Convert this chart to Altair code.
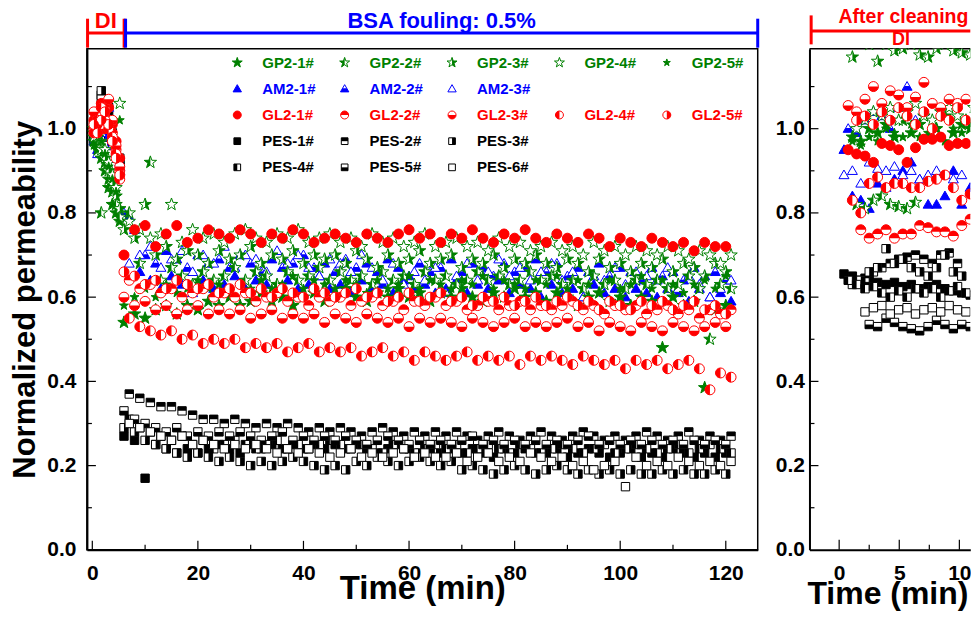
import altair as alt
import pandas as pd

FONT = "Liberation Sans"
GREEN, BLUE, RED, BLACK = "#008000", "#0000FF", "#FF0000", "#000000"

# ---------------- sampling times ----------------
T_DI = [0.3, 1.0, 1.7, 2.4, 3.1, 3.8, 4.5, 5.2]
T_EVEN = [6, 8, 10, 12, 14, 16, 18, 20, 22, 24, 26, 28, 30, 32, 34, 36, 38, 40, 42, 44,
          46, 48, 50, 52, 54, 56, 58, 60, 62, 64, 66, 68, 70, 72, 74, 76, 78, 80, 82, 84,
          86, 88, 90, 92, 94, 96, 98, 100, 102, 104, 106, 108, 110, 112, 114, 116, 118, 120]
T_ODD = [7, 9, 11, 13, 15, 17, 19, 21, 23, 25, 27, 29, 31, 33, 35, 37, 39, 41, 43, 45,
         47, 49, 51, 53, 55, 57, 59, 61, 63, 65, 67, 69, 71, 73, 75, 77, 79, 81, 83, 85,
         87, 89, 91, 93, 95, 97, 99, 101, 103, 105, 107, 109, 111, 113, 115, 117, 119, 121]
T_R1 = [0.4, 1.1, 1.8, 2.5, 3.2, 3.9, 4.6, 5.3, 6.0, 6.7, 7.4, 8.1, 8.8, 9.5, 10.2, 10.9]
T_R2 = [0.75, 1.45, 2.15, 2.85, 3.55, 4.25, 4.95, 5.65, 6.35, 7.05, 7.75, 8.45, 9.15, 9.85, 10.55, 11.2]

SERIES = ["GP2-1#", "GP2-2#", "GP2-3#", "GP2-4#", "GP2-5#",
          "AM2-1#", "AM2-2#", "AM2-3#",
          "GL2-1#", "GL2-2#", "GL2-3#", "GL2-4#", "GL2-5#",
          "PES-1#", "PES-2#", "PES-3#", "PES-4#", "PES-5#", "PES-6#"]

# ---------------- DI stage (0-5 min) ----------------
DI = {
    "GP2-1#": [0.97, 0.95, 0.93, 0.90, 0.86, 0.82, 0.80, 0.78],
    "GP2-2#": [0.99, 0.96, 0.80, 0.92, 0.88, 0.85, 0.82, 0.79],
    "GP2-3#": [1.00, 0.98, 0.95, 0.93, 0.90, 0.87, 0.84, 0.81],
    "GP2-4#": [0.98, 1.00, 0.97, 0.95, 0.92, 0.89, 0.86, 1.06],
    "GP2-5#": [0.96, 0.99, 0.97, 0.94, 0.91, 0.88, 0.85, 1.02],
    "AM2-1#": [0.97, 0.95, 1.00, 1.02, 0.99, 0.97, 0.94, 0.92],
    "AM2-2#": [1.00, 0.98, 1.02, 1.00, 0.98, 0.96, 0.93, 0.90],
    "AM2-3#": [0.98, 0.94, 0.99, 1.01, 1.05, 0.96, 0.93, 0.91],
    "GL2-1#": [1.02, 1.04, 1.06, 1.03, 1.05, 1.01, 0.97, 0.93],
    "GL2-2#": [1.00, 1.03, 1.01, 1.05, 1.02, 0.99, 0.95, 0.90],
    "GL2-3#": [1.04, 1.01, 1.03, 1.00, 1.07, 1.02, 0.96, 0.91],
    "GL2-4#": [0.99, 1.02, 1.05, 1.02, 1.00, 0.98, 0.94, 0.88],
    "GL2-5#": [1.01, 0.99, 1.02, 1.04, 1.01, 0.97, 0.93, 0.89],
    "PES-1#": [0.97, 1.00, 1.02, 1.00, 0.98, 0.96, 0.93, 0.91],
    "PES-2#": [1.01, 1.03, 1.08, 1.07, 1.05, 0.99, 0.95, 0.92],
    "PES-3#": [0.98, 1.02, 1.09, 1.06, 1.03, 0.97, 0.94, 0.90],
    "PES-4#": [1.00, 1.01, 1.05, 1.03, 1.01, 0.98, 0.95, 0.91],
    "PES-5#": [0.99, 1.02, 1.07, 1.04, 1.00, 0.97, 0.95, 0.92],
    "PES-6#": [1.00, 1.02, 1.04, 1.02, 0.99, 0.98, 0.96, 0.93],
}

# ---------------- BSA fouling stage (6-121 min) ----------------
FOUL_GRID = {"GP2-1#": "E", "GP2-2#": "O", "GP2-3#": "E", "GP2-4#": "O", "GP2-5#": "E",
             "AM2-1#": "O", "AM2-2#": "E", "AM2-3#": "O",
             "GL2-1#": "E", "GL2-2#": "O", "GL2-3#": "E", "GL2-4#": "O", "GL2-5#": "E",
             "PES-1#": "E", "PES-2#": "O", "PES-3#": "E", "PES-4#": "O", "PES-5#": "E", "PES-6#": "O"}

FOUL = {
    "GP2-1#": [0.54, 0.56, 0.55, 0.57, 0.58, 0.56, 0.58, 0.57, 0.59, 0.58,
               0.60, 0.58, 0.59, 0.61, 0.59, 0.60, 0.58, 0.60, 0.61, 0.59,
               0.60, 0.62, 0.60, 0.59, 0.61, 0.60, 0.62, 0.60, 0.61, 0.59,
               0.61, 0.60, 0.62, 0.60, 0.59, 0.61, 0.60, 0.62, 0.60, 0.61,
               0.59, 0.61, 0.60, 0.58, 0.60, 0.61, 0.59, 0.60, 0.58, 0.60,
               0.59, 0.48, 0.60, 0.58, 0.59, 0.385, 0.57, 0.58],
    "GP2-2#": [0.80, 0.68, 0.92, 0.64, 0.67, 0.65, 0.63, 0.66, 0.64, 0.65,
               0.67, 0.64, 0.66, 0.65, 0.63, 0.66, 0.64, 0.65, 0.67, 0.64,
               0.66, 0.64, 0.65, 0.63, 0.66, 0.64, 0.65, 0.63, 0.66, 0.64,
               0.65, 0.63, 0.64, 0.66, 0.64, 0.65, 0.63, 0.64, 0.66, 0.64,
               0.65, 0.63, 0.64, 0.62, 0.65, 0.63, 0.64, 0.62, 0.64, 0.63,
               0.64, 0.62, 0.63, 0.65, 0.62, 0.50, 0.63, 0.62],
    "GP2-3#": [0.76, 0.74, 0.82, 0.70, 0.72, 0.69, 0.71, 0.70, 0.68, 0.71,
               0.69, 0.70, 0.72, 0.68, 0.70, 0.69, 0.71, 0.68, 0.70, 0.69,
               0.70, 0.68, 0.71, 0.69, 0.67, 0.70, 0.68, 0.69, 0.71, 0.68,
               0.69, 0.70, 0.67, 0.69, 0.68, 0.70, 0.67, 0.69, 0.68, 0.70,
               0.68, 0.67, 0.69, 0.68, 0.66, 0.69, 0.67, 0.68, 0.66, 0.68,
               0.67, 0.69, 0.66, 0.68, 0.67, 0.65, 0.68, 0.66],
    "GP2-4#": [0.78, 0.76, 0.74, 0.75, 0.82, 0.73, 0.76, 0.74, 0.75, 0.73,
               0.75, 0.76, 0.74, 0.73, 0.75, 0.74, 0.76, 0.73, 0.74, 0.75,
               0.73, 0.74, 0.72, 0.75, 0.73, 0.74, 0.72, 0.73, 0.75, 0.72,
               0.73, 0.74, 0.72, 0.73, 0.71, 0.74, 0.72, 0.73, 0.71, 0.72,
               0.73, 0.71, 0.72, 0.70, 0.73, 0.71, 0.72, 0.70, 0.72, 0.71,
               0.70, 0.72, 0.71, 0.69, 0.71, 0.70, 0.68, 0.70],
    "GP2-5#": [0.58, 0.60, 0.62, 0.60, 0.63, 0.61, 0.62, 0.64, 0.62, 0.63,
               0.61, 0.63, 0.62, 0.64, 0.62, 0.63, 0.65, 0.62, 0.64, 0.63,
               0.62, 0.64, 0.63, 0.61, 0.64, 0.62, 0.63, 0.65, 0.62, 0.64,
               0.63, 0.62, 0.64, 0.63, 0.65, 0.62, 0.64, 0.63, 0.62, 0.64,
               0.63, 0.65, 0.62, 0.64, 0.63, 0.61, 0.64, 0.62, 0.63, 0.65,
               0.62, 0.64, 0.63, 0.61, 0.63, 0.64, 0.62, 0.65],
    "AM2-1#": [0.79, 0.66, 0.64, 0.62, 0.65, 0.63, 0.61, 0.64, 0.62, 0.63,
               0.65, 0.62, 0.64, 0.63, 0.61, 0.64, 0.62, 0.63, 0.65, 0.62,
               0.63, 0.61, 0.64, 0.62, 0.63, 0.61, 0.64, 0.62, 0.63, 0.61,
               0.62, 0.64, 0.61, 0.63, 0.62, 0.64, 0.61, 0.63, 0.62, 0.60,
               0.63, 0.61, 0.62, 0.60, 0.63, 0.61, 0.62, 0.60, 0.62, 0.61,
               0.60, 0.62, 0.61, 0.59, 0.62, 0.60, 0.61, 0.59],
    "AM2-2#": [0.80, 0.76, 0.70, 0.68, 0.71, 0.69, 0.67, 0.70, 0.68, 0.69,
               0.67, 0.70, 0.68, 0.66, 0.69, 0.67, 0.68, 0.70, 0.67, 0.68,
               0.66, 0.69, 0.67, 0.68, 0.66, 0.69, 0.67, 0.65, 0.68, 0.66,
               0.67, 0.69, 0.66, 0.68, 0.67, 0.65, 0.68, 0.66, 0.67, 0.69,
               0.66, 0.68, 0.65, 0.67, 0.66, 0.68, 0.65, 0.67, 0.66, 0.64,
               0.67, 0.65, 0.66, 0.64, 0.67, 0.65, 0.66, 0.64],
    "AM2-3#": [0.68, 0.70, 0.72, 0.67, 0.69, 0.71, 0.66, 0.70, 0.68, 0.72,
               0.67, 0.70, 0.69, 0.66, 0.71, 0.68, 0.70, 0.67, 0.65, 0.69,
               0.68, 0.66, 0.70, 0.67, 0.64, 0.68, 0.63, 0.66, 0.64, 0.67,
               0.61, 0.65, 0.68, 0.64, 0.66, 0.69, 0.65, 0.67, 0.64, 0.66,
               0.68, 0.64, 0.66, 0.60, 0.65, 0.64, 0.67, 0.63, 0.66, 0.65,
               0.64, 0.67, 0.62, 0.65, 0.63, 0.60, 0.62, 0.64],
    "GL2-1#": [0.70, 0.76, 0.77, 0.72, 0.75, 0.77, 0.73, 0.74, 0.76, 0.75,
               0.74, 0.76, 0.75, 0.73, 0.75, 0.74, 0.76, 0.75, 0.73, 0.74,
               0.75, 0.74, 0.73, 0.75, 0.74, 0.73, 0.75, 0.76, 0.74, 0.75,
               0.73, 0.75, 0.74, 0.76, 0.74, 0.73, 0.75, 0.74, 0.76, 0.74,
               0.73, 0.75, 0.74, 0.73, 0.75, 0.74, 0.72, 0.74, 0.73, 0.72,
               0.74, 0.73, 0.72, 0.73, 0.71, 0.73, 0.72, 0.72],
    "GL2-2#": [0.64, 0.62, 0.63, 0.61, 0.62, 0.60, 0.61, 0.62, 0.60, 0.61,
               0.60, 0.61, 0.59, 0.60, 0.61, 0.59, 0.60, 0.58, 0.60, 0.59,
               0.60, 0.58, 0.59, 0.60, 0.58, 0.59, 0.57, 0.59, 0.58, 0.60,
               0.58, 0.59, 0.57, 0.58, 0.59, 0.57, 0.58, 0.59, 0.57, 0.58,
               0.57, 0.58, 0.59, 0.57, 0.58, 0.56, 0.58, 0.57, 0.58, 0.56,
               0.57, 0.58, 0.56, 0.57, 0.55, 0.57, 0.56, 0.57],
    "GL2-3#": [0.60, 0.58, 0.59, 0.57, 0.58, 0.56, 0.57, 0.58, 0.56, 0.57,
               0.56, 0.57, 0.55, 0.56, 0.57, 0.55, 0.56, 0.55, 0.56, 0.54,
               0.56, 0.55, 0.54, 0.56, 0.55, 0.54, 0.55, 0.53, 0.55, 0.54,
               0.55, 0.54, 0.53, 0.55, 0.54, 0.53, 0.54, 0.55, 0.53, 0.54,
               0.53, 0.54, 0.55, 0.53, 0.54, 0.52, 0.54, 0.53, 0.52, 0.54,
               0.53, 0.52, 0.54, 0.53, 0.52, 0.53, 0.54, 0.53],
    "GL2-4#": [0.55, 0.53, 0.52, 0.51, 0.52, 0.50, 0.51, 0.49, 0.50, 0.49,
               0.50, 0.48, 0.49, 0.48, 0.49, 0.47, 0.48, 0.49, 0.47, 0.48,
               0.47, 0.48, 0.46, 0.47, 0.48, 0.46, 0.47, 0.45, 0.47, 0.46,
               0.45, 0.46, 0.47, 0.45, 0.46, 0.45, 0.46, 0.44, 0.46, 0.45,
               0.46, 0.45, 0.44, 0.46, 0.45, 0.44, 0.45, 0.43, 0.45, 0.44,
               0.45, 0.43, 0.44, 0.45, 0.43, 0.38, 0.42, 0.41],
    "GL2-5#": [0.66, 0.65, 0.63, 0.64, 0.62, 0.64, 0.63, 0.62, 0.63, 0.61,
               0.62, 0.63, 0.61, 0.62, 0.60, 0.62, 0.61, 0.60, 0.62, 0.61,
               0.60, 0.61, 0.62, 0.60, 0.61, 0.59, 0.60, 0.61, 0.59, 0.60,
               0.61, 0.59, 0.60, 0.58, 0.60, 0.59, 0.60, 0.58, 0.59, 0.60,
               0.58, 0.59, 0.60, 0.58, 0.59, 0.57, 0.59, 0.58, 0.57, 0.59,
               0.58, 0.59, 0.57, 0.58, 0.59, 0.57, 0.58, 0.56],
    "PES-1#": [0.27, 0.26, 0.17, 0.25, 0.24, 0.23, 0.24, 0.23, 0.24, 0.25,
               0.24, 0.23, 0.25, 0.24, 0.25, 0.24, 0.25, 0.24, 0.25, 0.24,
               0.25, 0.24, 0.25, 0.24, 0.23, 0.24, 0.25, 0.24, 0.23, 0.24,
               0.23, 0.24, 0.23, 0.24, 0.23, 0.22, 0.24, 0.23, 0.24, 0.23,
               0.23, 0.24, 0.22, 0.23, 0.24, 0.23, 0.22, 0.23, 0.24, 0.22,
               0.23, 0.22, 0.24, 0.23, 0.22, 0.23, 0.22, 0.23],
    "PES-2#": [0.37, 0.36, 0.35, 0.34, 0.34, 0.33, 0.32, 0.31, 0.31, 0.30,
               0.31, 0.30, 0.29, 0.30, 0.29, 0.30, 0.29, 0.28, 0.29, 0.28,
               0.29, 0.28, 0.27, 0.28, 0.29, 0.28, 0.27, 0.28, 0.27, 0.28,
               0.27, 0.28, 0.27, 0.26, 0.27, 0.28, 0.27, 0.26, 0.27, 0.28,
               0.27, 0.26, 0.27, 0.28, 0.27, 0.26, 0.27, 0.26, 0.27, 0.28,
               0.27, 0.26, 0.27, 0.28, 0.26, 0.27, 0.26, 0.27],
    "PES-3#": [0.29, 0.28, 0.26, 0.25, 0.24, 0.23, 0.22, 0.23, 0.22, 0.21,
               0.22, 0.21, 0.20, 0.21, 0.20, 0.21, 0.22, 0.21, 0.20, 0.19,
               0.20, 0.19, 0.21, 0.20, 0.22, 0.21, 0.20, 0.21, 0.22, 0.21,
               0.20, 0.21, 0.19, 0.20, 0.19, 0.18, 0.19, 0.20, 0.19, 0.18,
               0.19, 0.20, 0.19, 0.18, 0.19, 0.18, 0.19, 0.18, 0.19, 0.18,
               0.18, 0.19, 0.18, 0.19, 0.18, 0.18, 0.19, 0.18],
    "PES-4#": [0.31, 0.29, 0.28, 0.27, 0.26, 0.27, 0.25, 0.26, 0.24, 0.25,
               0.26, 0.25, 0.24, 0.25, 0.26, 0.24, 0.25, 0.24, 0.25, 0.26,
               0.25, 0.24, 0.25, 0.24, 0.23, 0.25, 0.24, 0.23, 0.24, 0.25,
               0.24, 0.25, 0.23, 0.24, 0.25, 0.24, 0.23, 0.25, 0.24, 0.23,
               0.24, 0.25, 0.24, 0.23, 0.24, 0.25, 0.23, 0.24, 0.25, 0.24,
               0.23, 0.24, 0.25, 0.23, 0.24, 0.25, 0.24, 0.23],
    "PES-5#": [0.33, 0.31, 0.30, 0.29, 0.28, 0.29, 0.27, 0.28, 0.27, 0.28,
               0.27, 0.28, 0.27, 0.26, 0.27, 0.28, 0.26, 0.27, 0.26, 0.27,
               0.26, 0.27, 0.26, 0.25, 0.26, 0.27, 0.26, 0.25, 0.26, 0.25,
               0.26, 0.25, 0.26, 0.27, 0.25, 0.26, 0.25, 0.26, 0.25, 0.26,
               0.25, 0.26, 0.25, 0.26, 0.27, 0.25, 0.26, 0.25, 0.26, 0.25,
               0.26, 0.25, 0.26, 0.25, 0.26, 0.25, 0.26, 0.25],
    "PES-6#": [0.30, 0.29, 0.28, 0.27, 0.26, 0.27, 0.25, 0.26, 0.25, 0.24,
               0.25, 0.24, 0.25, 0.24, 0.23, 0.24, 0.23, 0.24, 0.23, 0.22,
               0.23, 0.24, 0.22, 0.23, 0.22, 0.23, 0.24, 0.22, 0.23, 0.22,
               0.22, 0.23, 0.21, 0.22, 0.23, 0.21, 0.22, 0.21, 0.23, 0.22,
               0.21, 0.22, 0.20, 0.21, 0.19, 0.20, 0.21, 0.15, 0.22, 0.20,
               0.21, 0.20, 0.22, 0.21, 0.20, 0.21, 0.20, 0.21],
}

# ---------------- after cleaning, DI (0-11 min) ----------------
AFTER_GRID = {"GP2-1#": 1, "GP2-2#": 2, "GP2-3#": 1, "GP2-4#": 2, "GP2-5#": 1,
              "AM2-1#": 1, "AM2-2#": 2, "AM2-3#": 1,
              "GL2-1#": 2, "GL2-2#": 1, "GL2-3#": 2, "GL2-4#": 1, "GL2-5#": 2,
              "PES-1#": 1, "PES-2#": 2, "PES-3#": 1, "PES-4#": 2, "PES-5#": 1, "PES-6#": 2}
AFTER = {
    "GP2-1#": [None, 0.98, 0.97, 1.00, 0.99, 1.01, 0.98, 1.02, 0.99, 1.01, 0.98, 1.00, 1.03, 0.99, 1.01, 1.00],
    "GP2-2#": [None, 0.82, 0.81, 0.83, 0.84, 0.82, 0.815, 0.81, 0.825, None, None, None, None, None, None, None],
    "GP2-3#": [None, 1.17, None, 1.20, 1.16, 1.20, 1.185, 1.19, 1.20, 1.175, 1.17, 1.19, 1.20, 1.185, 1.18, 1.175],
    "GP2-4#": [None, 1.00, 1.02, 1.04, 1.03, 1.05, 1.02, 1.04, 1.06, 1.03, 1.02, 1.04, 1.05, 1.03, 1.02, 1.05],
    "GP2-5#": [None, 0.97, 0.96, 0.98, 0.97, 1.00, 0.99, 0.98, 1.01, 0.98, 0.99, 1.00, 0.97, 1.00, 0.99, 1.01],
    "AM2-1#": [0.95, 0.84, 0.83, 0.81, 0.87, 0.86, 0.88, 0.90, 0.92, 0.88, 0.82, 0.82, 0.84, 0.90, 0.82, 0.86],
    "AM2-2#": [1.00, 0.99, 1.02, 1.04, 1.03, 1.00, 1.05, 1.10, 1.02, 1.04, None, None, None, None, None, None],
    "AM2-3#": [0.89, 0.90, 0.87, 0.92, 0.905, 0.90, 0.91, 0.89, 0.90, 0.88, 0.89, 0.90, 0.89, 0.88, 0.89, None],
    "GL2-1#": [0.95, 0.94, 0.935, 0.92, 0.965, 0.96, 0.95, 0.92, 0.955, 0.975, 0.975, 0.98, 0.96, 0.965, 0.965, None],
    "GL2-2#": [None, None, 0.76, 0.74, 0.75, 0.76, 0.74, 0.75, 0.75, 0.77, 0.765, 0.755, 0.755, 0.745, 0.77, 0.785],
    "GL2-3#": [1.055, 1.04, 1.07, 1.10, 1.06, 1.09, 1.08, 1.05, 1.075, 1.11, 1.06, 1.05, 1.07, 1.06, 1.07, None],
    "GL2-4#": [None, 0.83, 0.80, 0.87, 0.885, 0.86, 0.87, 0.87, 0.86, 0.86, 0.875, 0.88, 0.89, 0.86, 0.83, 0.845],
    "GL2-5#": [None, 1.02, 1.03, 1.01, 1.04, 1.02, 1.05, 1.03, 1.01, 1.04, 1.00, 1.03, 1.02, 1.05, 1.02, None],
    "PES-1#": [0.655, 0.65, 0.64, 0.64, 0.635, 0.63, 0.635, 0.625, 0.63, 0.62, 0.625, 0.63, 0.62, 0.615, 0.61, 0.605],
    "PES-2#": [None, None, 0.645, 0.66, 0.67, 0.68, 0.69, 0.695, 0.70, 0.69, 0.68, 0.70, 0.705, 0.68, None, None],
    "PES-3#": [None, 0.63, 0.64, 0.66, 0.67, 0.715, 0.68, 0.69, 0.67, 0.66, 0.65, 0.67, 0.70, 0.66, 0.65, None],
    "PES-4#": [0.64, 0.63, 0.62, 0.625, 0.61, 0.60, 0.615, 0.60, 0.62, 0.61, 0.62, 0.60, 0.615, 0.625, 0.61, None],
    "PES-5#": [None, None, None, 0.535, 0.53, 0.55, 0.54, 0.53, 0.525, 0.52, 0.53, 0.545, 0.535, 0.525, 0.535, 0.53],
    "PES-6#": [None, None, 0.565, 0.575, 0.58, 0.56, 0.57, 0.575, 0.56, 0.57, 0.575, 0.565, 0.58, 0.57, 0.565, None],
}

# ---------------- ticks / annotations ----------------
Y_LABELS = [0.0, 0.2, 0.4, 0.6, 0.8, 1.0]
Y_MAJOR = [0.2, 0.4, 0.6, 0.8, 1.0]
Y_MINOR = [0.1, 0.3, 0.5, 0.7, 0.9, 1.1]
X_MAJOR = [0, 20, 40, 60, 80, 100, 120]
X_MINOR = [10, 30, 50, 70, 90, 110]
XR_MAJOR = [0, 5, 10]
XR_MINOR = [2.5, 7.5]
PHASES = [("DI", -0.9, 6.03, RED), ("BSA fouling: 0.5%", 6.3, 126.05, BLUE)]

# ---------------- marker styles ----------------
STAR = "M0,-1L0.235,-0.324L0.951,-0.309L0.38,0.124L0.588,0.809L0,0.4L-0.588,0.809L-0.38,0.124L-0.951,-0.309L-0.235,-0.324Z"
SHAPES = {
    "star": {"full": STAR,
             "left": "M0,-1L0,0.4L-0.588,0.809L-0.38,0.124L-0.951,-0.309L-0.235,-0.324Z",
             "right": "M0,-1L0.235,-0.324L0.951,-0.309L0.38,0.124L0.588,0.809L0,0.4Z"},
    "tri": {"full": "M0,-1L1,0.73L-1,0.73Z",
            "bottom": "M-0.5,-0.135L0.5,-0.135L1,0.73L-1,0.73Z"},
    "circle": {"full": "M-1,0A1,1,0,1,1,1,0A1,1,0,1,1,-1,0Z",
               "top": "M-1,0A1,1,0,0,1,1,0Z",
               "bottom": "M-1,0A1,1,0,0,0,1,0Z",
               "left": "M0,-1A1,1,0,0,0,0,1Z",
               "right": "M0,-1A1,1,0,0,1,0,1Z"},
    "square": {"full": "M-1,-1L1,-1L1,1L-1,1Z",
               "top": "M-1,-1L1,-1L1,0L-1,0Z",
               "bottom": "M-1,0L1,0L1,1L-1,1Z",
               "left": "M-1,-1L0,-1L0,1L-1,1Z",
               "right": "M0,-1L1,-1L1,1L0,1Z"},
}
STYLE = {
    "GP2-1#": ("star", "full", GREEN, 170, 110), "GP2-2#": ("star", "left", GREEN, 170, 110),
    "GP2-3#": ("star", "right", GREEN, 170, 110), "GP2-4#": ("star", "open", GREEN, 170, 110),
    "GP2-5#": ("star", "full", GREEN, 90, 55),
    "AM2-1#": ("tri", "full", BLUE, 100, 70), "AM2-2#": ("tri", "bottom", BLUE, 100, 70),
    "AM2-3#": ("tri", "open", BLUE, 100, 70),
    "GL2-1#": ("circle", "full", RED, 100, 64), "GL2-2#": ("circle", "top", RED, 100, 64),
    "GL2-3#": ("circle", "bottom", RED, 100, 64), "GL2-4#": ("circle", "left", RED, 100, 64),
    "GL2-5#": ("circle", "right", RED, 100, 64),
    "PES-1#": ("square", "full", BLACK, 70, 45), "PES-2#": ("square", "top", BLACK, 70, 45),
    "PES-3#": ("square", "right", BLACK, 70, 45), "PES-4#": ("square", "left", BLACK, 70, 45),
    "PES-5#": ("square", "bottom", BLACK, 70, 45), "PES-6#": ("square", "open", BLACK, 70, 45),
}
LEGEND_ROWS = [["GP2-1#", "GP2-2#", "GP2-3#", "GP2-4#", "GP2-5#"],
               ["AM2-1#", "AM2-2#", "AM2-3#"],
               ["GL2-1#", "GL2-2#", "GL2-3#", "GL2-4#", "GL2-5#"],
               ["PES-1#", "PES-2#", "PES-3#"],
               ["PES-4#", "PES-5#", "PES-6#"]]
DRAW_ORDER = SERIES[13:] + SERIES[5:8] + SERIES[0:5] + SERIES[8:13]

# ---------------- layout ----------------
W_MAIN, H = 671.5, 501.7
W_R = 161.0
XS_MAIN = alt.Scale(domain=[-1.02, 126.05], nice=False, zero=False)
XS_R = alt.Scale(domain=[-2.47, 10.91], nice=False, zero=False)
YS = alt.Scale(domain=[0, 1.19], nice=False, zero=False)

LBL = dict(labelFont=FONT, labelFontSize=21, labelFontWeight="bold", labelColor="black",
           ticks=False, grid=False, domainColor="black", domainWidth=2)
TTL = dict(titleFont=FONT, titleFontWeight="bold", titleColor="black")

AX_X_MAIN = alt.Axis(values=X_MAJOR, format="d", labelPadding=13, title="Time (min)",
                     titleFontSize=33, titleY=48.3, titleBaseline="alphabetic", **LBL, **TTL)
AX_Y_MAIN = alt.Axis(values=Y_LABELS, format=".1f", labelPadding=11, title="Normalized permeability",
                     titleFontSize=31, titleX=-61.5, titleY=H / 2, titleAngle=270,
                     titleAlign="center", titleBaseline="middle", **LBL, **TTL)
AX_X_R = alt.Axis(values=XR_MAJOR, format="d", labelPadding=13, title="Time (min)",
                  titleFontSize=32, titleX=78, titleY=54, titleAlign="center",
                  titleBaseline="alphabetic", **LBL, **TTL)
AX_Y_R = alt.Axis(values=Y_LABELS, format=".1f", labelPadding=5, title=None, **LBL)


def frame(times, values):
    rows = [(t, v) for t, v in zip(times, values) if v is not None]
    return pd.DataFrame(rows, columns=["t", "v"])


def marker_layers(df, name, xenc, yenc, legend=False):
    kind, fill, color, size, lsize = STYLE[name]
    sz = lsize if legend else size
    base_fill = color if fill == "full" else "white"
    out = [alt.Chart(df).mark_point(shape=SHAPES[kind]["full"], filled=True, fill=base_fill,
                                    stroke=color, strokeWidth=1.0, size=sz, opacity=1,
                                    clip=not legend).encode(x=xenc, y=yenc)]
    if fill in SHAPES[kind] and fill != "full":
        out.append(alt.Chart(df).mark_point(shape=SHAPES[kind][fill], filled=True, fill=color,
                                            strokeWidth=0, size=sz, opacity=1,
                                            clip=not legend).encode(x=xenc, y=yenc))
    return out


def tick_layers(xs, xaxis, ys, yaxis, xmaj, xmin, ymaj, ymin, xmaj_len):
    X = alt.X("t:Q", scale=xs, axis=xaxis)
    Y = alt.Y("v:Q", scale=ys, axis=yaxis)
    out = []
    for vals, ln in ((ymaj, 9), (ymin, 5)):
        out.append(alt.Chart(pd.DataFrame({"v": vals})).mark_rule(color="black", strokeWidth=1.2)
                   .encode(y=Y, x=alt.value(0), x2=alt.value(ln)))
    for vals, ln in ((xmaj, xmaj_len), (xmin, 5)):
        out.append(alt.Chart(pd.DataFrame({"t": vals})).mark_rule(color="black", strokeWidth=1.2)
                   .encode(x=X, y=alt.value(H), y2=alt.value(H - ln)))
    return out, X, Y


# ---------------- main panel ----------------
main_layers, XM, YM = tick_layers(XS_MAIN, AX_X_MAIN, YS, AX_Y_MAIN,
                                  X_MAJOR, X_MINOR, Y_MAJOR, Y_MINOR, 9)
for label, t0, t1, col in PHASES:
    seg = pd.DataFrame({"t": [t0], "t2": [t1], "mid": [(t0 + t1) / 2], "label": [label]})
    main_layers.append(alt.Chart(seg).mark_rule(color=col, strokeWidth=3)
                       .encode(x=XM, x2="t2:Q", y=alt.value(-15.7)))
    for fld in ("t", "t2"):
        main_layers.append(alt.Chart(seg).mark_rule(color=col, strokeWidth=3)
                           .encode(x=alt.X(f"{fld}:Q", scale=XS_MAIN, axis=AX_X_MAIN),
                                   y=alt.value(-30), y2=alt.value(-1)))
    main_layers.append(alt.Chart(seg).mark_text(color=col, font=FONT, fontSize=22, fontWeight="bold",
                                                align="center", baseline="middle")
                       .encode(x=alt.X("mid:Q", scale=XS_MAIN, axis=AX_X_MAIN),
                               y=alt.value(-27.5), text="label:N"))

for name in DRAW_ORDER:
    tgrid = T_EVEN if FOUL_GRID[name] == "E" else T_ODD
    df = pd.concat([frame(T_DI, DI[name]), frame(tgrid, FOUL[name])], ignore_index=True)
    main_layers += marker_layers(df, name, XM, YM)

for r, row in enumerate(LEGEND_ROWS):
    for c, name in enumerate(row):
        color = STYLE[name][2]
        sx, sy = 150.5 + 107.5 * c, 14 + 26.2 * r
        one = pd.DataFrame({"label": [name]})
        main_layers += marker_layers(one, name, alt.value(sx), alt.value(sy), legend=True)
        main_layers.append(alt.Chart(one).mark_text(color=color, font=FONT, fontSize=15,
                                                    fontWeight="bold", align="left",
                                                    baseline="middle")
                           .encode(x=alt.value(sx + 25), y=alt.value(sy), text="label:N"))

main = alt.layer(*main_layers).properties(width=W_MAIN, height=H)

# ---------------- after-cleaning panel ----------------
r_layers, XR, YR = tick_layers(XS_R, AX_X_R, YS, AX_Y_R, XR_MAJOR, XR_MINOR, Y_MAJOR, Y_MINOR, 10)
border = pd.DataFrame({"t": [XS_R.domain[0]], "t2": [XS_R.domain[1]]})
r_layers.append(alt.Chart(border).mark_rule(color="black", strokeWidth=1.5)
                .encode(x=XR, x2="t2:Q", y=alt.value(0)))
ann = pd.DataFrame({"t": [-2.33], "t2": [XS_R.domain[1]]})
r_layers.append(alt.Chart(ann).mark_rule(color=RED, strokeWidth=3)
                .encode(x=XR, x2="t2:Q", y=alt.value(-17.6)))
r_layers.append(alt.Chart(ann).mark_rule(color=RED, strokeWidth=3)
                .encode(x=XR, y=alt.value(-33.3), y2=alt.value(-4.3)))
for label, tpos, ypos, fs in (("After cleaning", 5.35, -31.6, 19.5), ("DI", 5.14, -8.5, 18)):
    r_layers.append(alt.Chart(pd.DataFrame({"t": [tpos], "label": [label]}))
                    .mark_text(color=RED, font=FONT, fontSize=fs, fontWeight="bold",
                               align="center", baseline="middle")
                    .encode(x=XR, y=alt.value(ypos), text="label:N"))
for name in DRAW_ORDER:
    tgrid = T_R1 if AFTER_GRID[name] == 1 else T_R2
    r_layers += marker_layers(frame(tgrid, AFTER[name]), name, XR, YR)

right = alt.layer(*r_layers).properties(width=W_R, height=H,
                                        view=alt.ViewBackground(stroke="transparent"))

chart = alt.hconcat(main, right, spacing=51.3, bounds="flush",
                    padding={"left": 0, "top": -2.6, "right": -2, "bottom": 0}) \
    .configure(font=FONT, background="white") \
    .configure_view(stroke="black", strokeWidth=1.5)

chart.save("out.html", embed_options={"renderer": "svg", "actions": False})
